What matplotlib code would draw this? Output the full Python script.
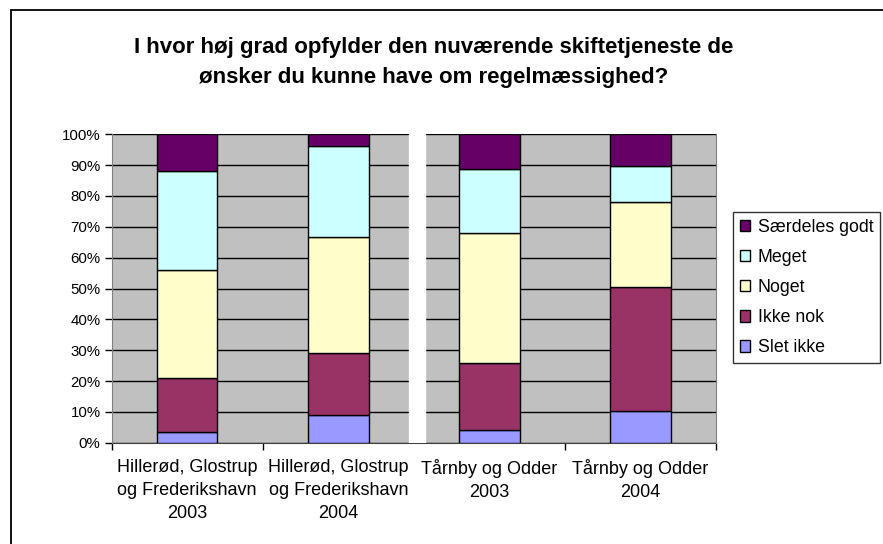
import numpy as np
import matplotlib.pyplot as plt
from matplotlib.patches import Patch, Rectangle

# Data (share of answers per group)
kategorier = ['Hillerød, Glostrup\nog Frederikshavn\n2003',
              'Hillerød, Glostrup\nog Frederikshavn\n2004',
              'Tårnby og Odder\n2003',
              'Tårnby og Odder\n2004']
serier = ['Slet ikke', 'Ikke nok', 'Noget', 'Meget', 'Særdeles godt']
slet_ikke = [0.036, 0.089, 0.041, 0.103]
ikke_nok = [0.175, 0.201, 0.216, 0.403]
noget = [0.348, 0.378, 0.424, 0.275]
meget = [0.323, 0.294, 0.205, 0.116]
saerdeles_godt = [0.118, 0.038, 0.114, 0.103]
farver = ['#9999FF', '#993366', '#FFFFCC', '#CCFFFF', '#660066']

W, H = 883, 544
fig = plt.figure(figsize=(W / 100, H / 100), dpi=100)
plt.rcParams['font.family'] = ['Liberation Sans', 'DejaVu Sans']

# Outer chart border
fig.patches.append(Rectangle((11 / W, -0.05), 1.0, 1 - 10 / H + 0.05, transform=fig.transFigure,
                             fill=False, edgecolor='black', linewidth=1.3))

ax = fig.add_axes([111.7 / W, (H - 442.7) / H, (716 - 111.7) / W, (442.7 - 134.3) / H])
ax.set_facecolor('#C0C0C0')
ax.set_axisbelow(True)

x = np.arange(len(kategorier))
bund = np.zeros(len(kategorier))
for navn, vaerdier, farve in zip(serier, [slet_ikke, ikke_nok, noget, meget, saerdeles_godt], farver):
    ax.bar(x, vaerdier, width=0.4, bottom=bund, color=farve, edgecolor='black', linewidth=1, zorder=3)
    bund += np.array(vaerdier)

# white gap between the two chart parts
ax.axvspan(1.469, 1.575, color='white', zorder=1.5)

ax.set_xlim(-0.5, 3.5)
ax.set_ylim(0, 1)
ax.yaxis.grid(True, color='black', linewidth=1)
ax.set_yticks(np.arange(0, 1.01, 0.1))
ax.set_yticklabels([f'{int(round(v * 100))}%' for v in np.arange(0, 1.01, 0.1)], fontsize=10.8)
ax.tick_params(axis='y', length=5, width=1, pad=3, color='black')

ax.set_xticks([-0.5, 0.5, 2.5, 3.5])
ax.set_xticklabels([])
ax.tick_params(axis='x', which='major', length=5, width=1, color='black')
ax.set_xticks(x, minor=True)
ax.set_xticklabels(kategorier, minor=True, fontsize=13, linespacing=1.45, va='top')
ax.tick_params(axis='x', which='minor', length=0, pad=12)

ax.spines['top'].set_visible(False)
ax.spines['left'].set_color('#808080')
ax.spines['right'].set_color('#808080')
ax.spines['bottom'].set_color('#404040')
ax.spines['bottom'].set_zorder(1.2)

fig.text(434 / W, 1 - 47 / H, 'I hvor høj grad opfylder den nuværende skiftetjeneste de',
         ha='center', va='center', fontsize=16, fontweight='bold')
fig.text(434 / W, 1 - 78 / H, 'ønsker du kunne have om regelmæssighed?',
         ha='center', va='center', fontsize=16, fontweight='bold')

handles = [Patch(facecolor=f, edgecolor='black', linewidth=1, label=n) for n, f in zip(serier, farver)]
leg = fig.legend(handles[::-1], serier[::-1], loc='upper left', bbox_to_anchor=(733 / W, 1 - 212 / H),
                 frameon=True, fancybox=False, fontsize=12.8, handlelength=0.6, handleheight=0.6,
                 handletextpad=0.4, labelspacing=0.74, borderpad=0.38, borderaxespad=0)
leg.get_frame().set_edgecolor('black')
leg.get_frame().set_linewidth(1)

fig.savefig('out.png', dpi=100)
